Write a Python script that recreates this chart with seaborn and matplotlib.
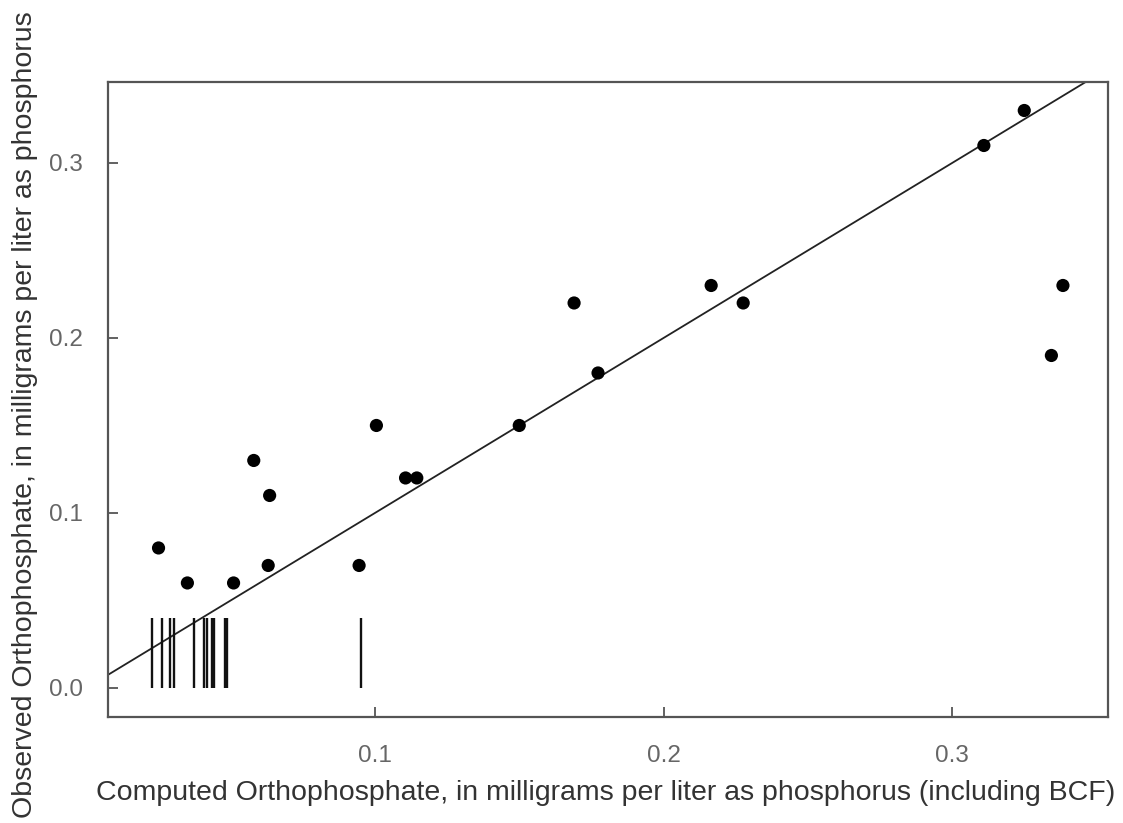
import seaborn as sns
import pandas as pd
import matplotlib
matplotlib.use('Agg')
import matplotlib.pyplot as plt

# computed vs observed orthophosphate (mg/L as P)
computed = [0.025, 0.035, 0.051, 0.058, 0.0635, 0.063, 0.0945, 0.1005, 0.1106, 0.1145,
            0.150, 0.169, 0.1773, 0.2165, 0.2276, 0.311, 0.325, 0.3384, 0.3344]
observed = [0.08, 0.06, 0.06, 0.13, 0.11, 0.07, 0.07, 0.15, 0.12, 0.12,
            0.15, 0.22, 0.18, 0.23, 0.22, 0.31, 0.33, 0.23, 0.19]

# computed values for censored observations (drawn as vertical bars)
censored = [0.0228, 0.0263, 0.0290, 0.0302, 0.0373, 0.0407, 0.0419, 0.0436, 0.0442,
            0.0480, 0.0487, 0.0951]
censored_top = 0.04

xticks = [0.1, 0.2, 0.3]
yticks = [0.0, 0.1, 0.2, 0.3]

df = pd.DataFrame({'computed': computed, 'observed': observed})

sns.set_style('white')
plt.rcParams['font.family'] = ['Liberation Sans', 'DejaVu Sans']

fig = plt.figure(figsize=(11.23, 8.23), dpi=100)
ax = fig.add_axes([0.0962, 0.1288, 0.8904, 0.7716])

sns.scatterplot(data=df, x='computed', y='observed', ax=ax, color='black',
                s=90, edgecolor='none', zorder=3)
ax.axline((0, 0), slope=1, color='#222222', lw=1.3)
ax.vlines(censored, 0, censored_top, color='#111111', lw=1.7)

ax.set_xlim(0.0075, 0.354)
ax.set_ylim(-0.0166, 0.3463)
ax.set_xticks(xticks)
ax.set_yticks(yticks)
ax.set_xticklabels([f'{t:.1f}' for t in xticks])
ax.set_yticklabels([f'{t:.1f}' for t in yticks])
ax.tick_params(axis='both', direction='in', length=7, width=1.3, color='#555555',
               labelcolor='#666666', labelsize=17.5, bottom=True, left=True)
ax.tick_params(axis='x', pad=20)
ax.tick_params(axis='y', pad=18)
for sp in ax.spines.values():
    sp.set_color('#555555')
    sp.set_linewidth(1.6)

ax.set_xlabel('')
ax.set_ylabel('')
fig.text(0.539, 0.036, 'Computed Orthophosphate, in milligrams per liter as phosphorus (including BCF)',
         ha='center', va='center', fontsize=20.5, color='#333333')
fig.text(0.0223, 0.496, 'Observed Orthophosphate, in milligrams per liter as phosphorus',
         ha='center', va='center', rotation=90, fontsize=20.5, color='#333333')

fig.savefig('out.png', dpi=100)
